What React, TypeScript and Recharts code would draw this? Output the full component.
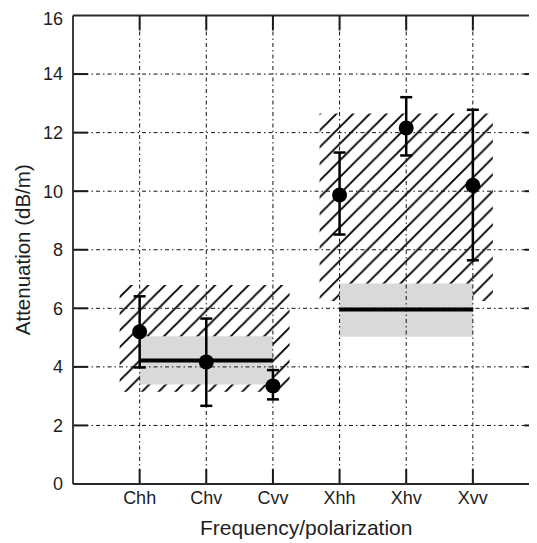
import React from 'react';
import {
  ComposedChart,
  Scatter,
  XAxis,
  YAxis,
  ReferenceArea,
  ReferenceLine,
  ErrorBar,
} from 'recharts';

// ---- data ----
const categories = ['Chh', 'Chv', 'Cvv', 'Xhh', 'Xhv', 'Xvv'];
const positions = [1, 2, 3, 4, 5, 6];
const means = [5.2, 4.17, 3.35, 9.87, 12.16, 10.2];
const lows = [3.98, 2.67, 2.89, 8.52, 11.22, 7.64];
const highs = [6.41, 5.65, 3.89, 11.32, 13.21, 12.78];
const yTicks = [0, 2, 4, 6, 8, 10, 12, 14, 16];

// frequency groups (C band, X band)
const groupStart = [1, 4];
const groupEnd = [3, 6];
const groupMean = [4.22, 5.96];
const bandLow = [3.4, 5.03];
const bandHigh = [5.05, 6.85];
const hatchX1 = [0.7, 3.7];
const hatchX2 = [3.25, 6.3];
const hatchY1 = [3.15, 6.25];
const hatchY2 = [6.8, 12.65];

const data = categories.map((c, i) => ({
  name: c,
  x: positions[i],
  y: means[i],
  err: [means[i] - lows[i], highs[i] - means[i]],
}));

const X_DOMAIN: [number, number] = [0, 7];
const Y_DOMAIN: [number, number] = [0, 16];
const TICK_DX = 0.225; // inward tick length in x units
const TICK_DY = 0.51; // inward tick length in y units

const FONT = '"Liberation Sans", Arial, Helvetica, sans-serif';
const INK = '#1e1e1e';
const GRID_DASH = '4 3 1.5 3';

const YTitle = (props: any) => {
  const vb = props.viewBox || {};
  const cx = (vb.x || 0) + 14;
  const cy = (vb.y || 0) + (vb.height || 0) / 2;
  return (
    <text
      x={cx}
      y={cy}
      transform={`rotate(-90 ${cx} ${cy})`}
      textAnchor="middle"
      dominantBaseline="central"
      fontSize={20.5}
      fontFamily={FONT}
      fill={INK}
    >
      Attenuation (dB/m)
    </text>
  );
};

const Dot = (p: any) => <circle cx={p.cx} cy={p.cy} r={7.5} fill="#000" />;

export default function App() {
  return (
    <div style={{ width: 529, height: 535, overflow: 'hidden' }}>
      <ComposedChart
        width={540}
        height={535}
        margin={{ top: 7.5, right: 8.5, bottom: 0, left: 0 }}
        style={{ fontFamily: FONT }}
      >
        <defs>
          <pattern id="hatch" patternUnits="userSpaceOnUse" width={16.7} height={16.7}>
            <path
              d="M0,16.7 L16.7,0 M-4,4 L4,-4 M12.7,20.7 L20.7,12.7"
              stroke="#000"
              strokeWidth={1.9}
            />
          </pattern>
        </defs>
        <XAxis
          type="number"
          dataKey="x"
          domain={X_DOMAIN}
          ticks={positions}
          tickFormatter={(v: number) => categories[v - 1] ?? ''}
          tickLine={false}
          tickSize={0}
          tickMargin={7}
          height={59}
          axisLine={{ stroke: '#2a2a2a', strokeWidth: 1.8 }}
          tick={{ fontSize: 18, fill: INK, fontFamily: FONT }}
          allowDataOverflow
          label={{
            value: 'Frequency/polarization',
            position: 'insideBottom',
            offset: 8,
            fontSize: 21,
            fill: INK,
            fontFamily: FONT,
          }}
        />
        <YAxis
          type="number"
          dataKey="y"
          domain={Y_DOMAIN}
          ticks={yTicks}
          tickLine={false}
          tickSize={0}
          tickMargin={10}
          width={65}
          axisLine={{ stroke: '#2a2a2a', strokeWidth: 1.8 }}
          tick={{ fontSize: 18, fill: INK, fontFamily: FONT }}
          allowDataOverflow
          label={<YTitle />}
        />
        {groupStart.map((_, g) => (
          <ReferenceArea
            key={`hatch-${g}`}
            x1={hatchX1[g]}
            x2={hatchX2[g]}
            y1={hatchY1[g]}
            y2={hatchY2[g]}
            fill="url(#hatch)"
            fillOpacity={1}
            stroke="none"
            ifOverflow="visible"
          />
        ))}
        {groupStart.map((_, g) => (
          <ReferenceArea
            key={`band-${g}`}
            x1={groupStart[g]}
            x2={groupEnd[g]}
            y1={bandLow[g]}
            y2={bandHigh[g]}
            fill="#d9d9d9"
            fillOpacity={1}
            stroke="none"
            ifOverflow="visible"
          />
        ))}
        {/* dotted grid, drawn above the shaded bands */}
        {yTicks.slice(1, -1).map((v) => (
          <ReferenceLine
            key={`gh-${v}`}
            y={v}
            stroke="#111"
            strokeWidth={1}
            strokeDasharray={GRID_DASH}
            ifOverflow="visible"
          />
        ))}
        {positions.map((v) => (
          <ReferenceLine
            key={`gv-${v}`}
            x={v}
            stroke="#111"
            strokeWidth={1}
            strokeDasharray={GRID_DASH}
            ifOverflow="visible"
          />
        ))}
        {groupStart.map((_, g) => (
          <ReferenceLine
            key={`mean-${g}`}
            segment={[
              { x: groupStart[g], y: groupMean[g] },
              { x: groupEnd[g], y: groupMean[g] },
            ]}
            stroke="#000"
            strokeWidth={4}
            ifOverflow="visible"
          />
        ))}
        {/* frame */}
        <ReferenceLine y={Y_DOMAIN[1]} stroke="#2a2a2a" strokeWidth={1.8} ifOverflow="visible" />
        <ReferenceLine x={X_DOMAIN[1]} stroke="#2a2a2a" strokeWidth={1.8} ifOverflow="visible" />
        {/* inward ticks */}
        {yTicks.slice(1, -1).map((v) => (
          <ReferenceLine
            key={`yl-${v}`}
            segment={[{ x: X_DOMAIN[0], y: v }, { x: X_DOMAIN[0] + TICK_DX, y: v }]}
            stroke="#1a1a1a"
            strokeWidth={2}
            ifOverflow="visible"
          />
        ))}
        {yTicks.slice(1, -1).map((v) => (
          <ReferenceLine
            key={`yr-${v}`}
            segment={[{ x: X_DOMAIN[1] - TICK_DX, y: v }, { x: X_DOMAIN[1], y: v }]}
            stroke="#1a1a1a"
            strokeWidth={2}
            ifOverflow="visible"
          />
        ))}
        {positions.map((v) => (
          <ReferenceLine
            key={`xb-${v}`}
            segment={[{ x: v, y: Y_DOMAIN[0] }, { x: v, y: Y_DOMAIN[0] + TICK_DY }]}
            stroke="#1a1a1a"
            strokeWidth={2}
            ifOverflow="visible"
          />
        ))}
        {positions.map((v) => (
          <ReferenceLine
            key={`xt-${v}`}
            segment={[{ x: v, y: Y_DOMAIN[1] - TICK_DY }, { x: v, y: Y_DOMAIN[1] }]}
            stroke="#1a1a1a"
            strokeWidth={2}
            ifOverflow="visible"
          />
        ))}
        <Scatter data={data} shape={Dot} isAnimationActive={false}>
          <ErrorBar
            dataKey="err"
            direction="y"
            width={6}
            stroke="#000"
            strokeWidth={2.5}
            isAnimationActive={false}
          />
        </Scatter>
      </ComposedChart>
    </div>
  );
}
